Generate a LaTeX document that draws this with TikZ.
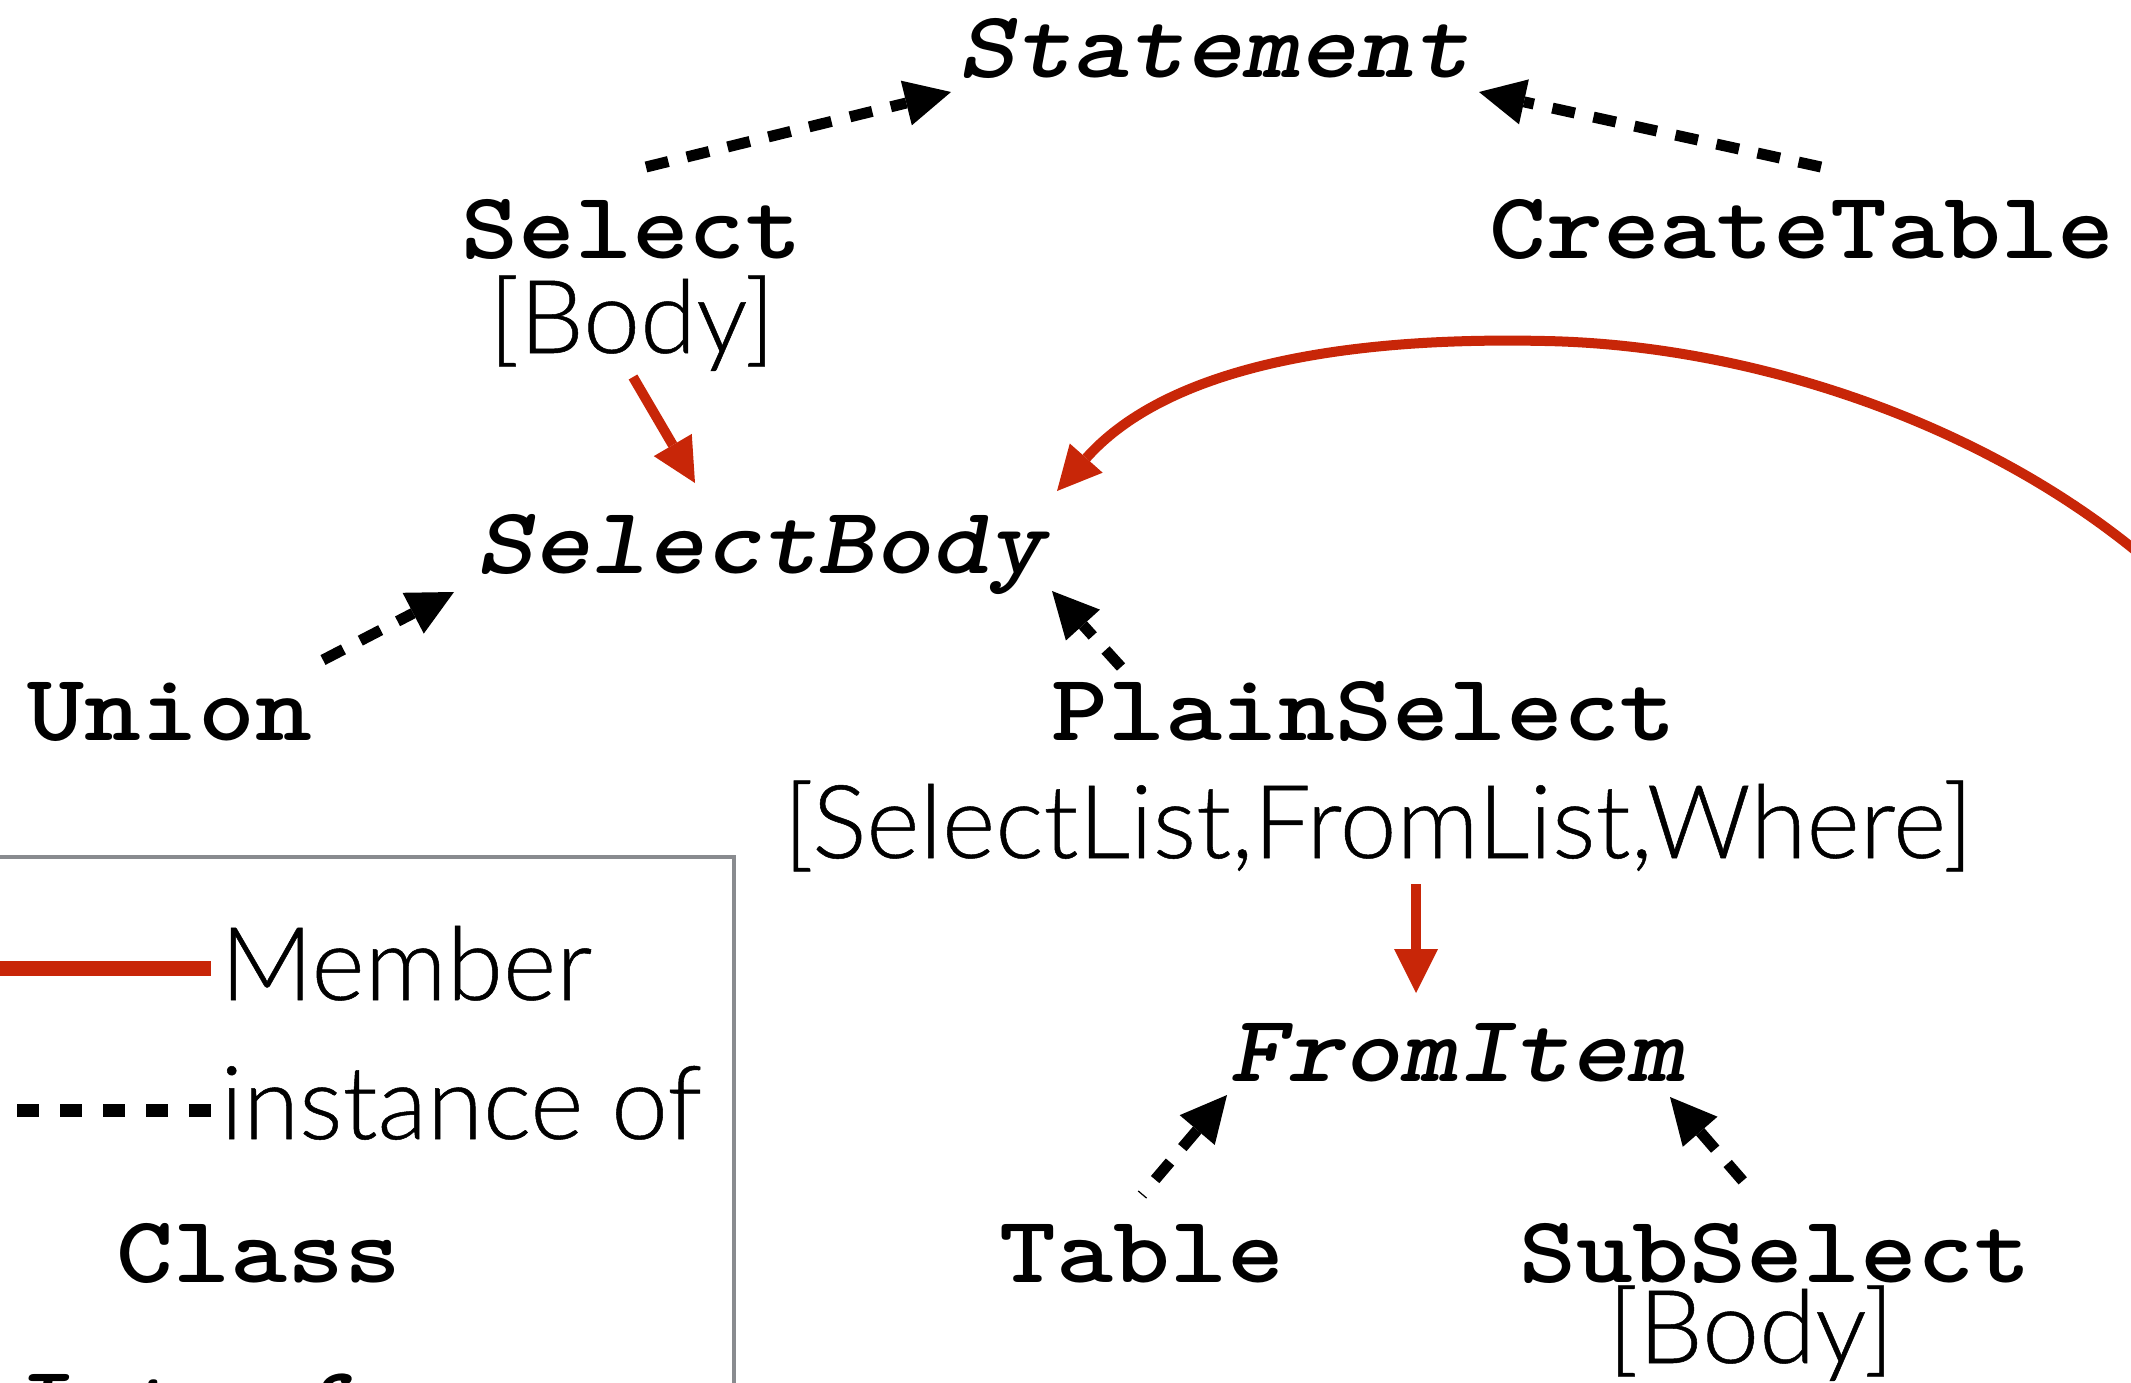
\documentclass[tikz,border=0pt]{standalone}
\usepackage{fontspec}
\usetikzlibrary{arrows.meta,calc}

% typewriter face for class and interface names
\newfontfamily\codefont{lmmonolt10-bold.otf}[ItalicFont=lmmonolt10-boldoblique.otf, FakeStretch=1.14]
% light sans face for member lists and the key
\IfFontExistsTF{Lato Light}{\newfontfamily\labelfont{Lato Light}[FakeBold=0.5]}{\newfontfamily\labelfont{Liberation Sans}}

\definecolor{memberred}{RGB}{200,38,8}
\definecolor{framegray}{RGB}{137,139,143}

\tikzset{
  MemberHead/.tip={Triangle[length=22pt,width=22pt,line width=0pt]},
  InstHead/.tip={Triangle[length=23pt,width=23pt,line width=0pt]},
  cls/.style={font=\codefont\fontsize{47.5}{50}\selectfont, inner sep=0pt, anchor=base},
  iface/.style={cls, font=\codefont\itshape\fontsize{47.5}{50}\selectfont},
  mbr/.style={font=\labelfont\fontsize{51}{54}\selectfont, inner sep=0pt, anchor=base},
  member/.style={draw=memberred, line width=5pt, -MemberHead},
  inst/.style={draw=black, line width=5.5pt, dash pattern=on 11.5pt off 9.5pt, -InstHead},
  keyframe/.style={draw=framegray, line width=2.25pt},
}

\begin{document}
\begin{tikzpicture}[x=0.5pt, y=-0.5pt]
\useasboundingbox (0,0) rectangle (2131,1382);

% class hierarchy
\node[iface] (Statement)   at (1214,77)   {Statement};
\node[cls]   (Select)      at (632,258)   {Select};
\node[mbr]   (SelectMembers) at (632,353) {[Body]};
\node[cls]   (CreateTable) at (1802,258)  {CreateTable};
\node[iface] (SelectBody)  at (761,573)   {SelectBody};
\node[cls]   (Union)       at (170,740)   {Union};
\node[cls]   (PlainSelect) at (1364,740)  {PlainSelect};
\node[mbr]   (PlainSelectMembers) at (1378,858) {[SelectList,FromList,Where]};
\node[iface] (FromItem)    at (1457,1081) {FromItem};
\node[cls]   (Table)       at (1142,1282) {Table};
\node[cls]   (SubSelect)   at (1775,1282) {SubSelect};
\node[mbr]   (SubSelectMembers) at (1751,1363) {[Body]};

% instance-of relations
\draw[inst] ([shift={(14,-91)}]Select.base) -- ([shift={(-263,15)}]Statement.base);
\draw[inst] ([shift={(19,-91)}]CreateTable.base) -- ([shift={(265,15)}]Statement.base);
\draw[inst] ([shift={(153,-80)}]Union.base) -- ([shift={(-307,19)}]SelectBody.base);
\draw[inst] ([shift={(-243,-73)}]PlainSelect.base) -- ([shift={(291,18)}]SelectBody.base);
\draw[inst, InstHead-] ([shift={(-230,14)}]FromItem.base) -- ([shift={(0,-87)}]Table.base);
\draw[inst, InstHead-] ([shift={(213,16)}]FromItem.base) -- ([shift={(-20,-87)}]SubSelect.base);

% member relations
\draw[member] ([shift={(1,24)}]SelectMembers.base) -- ([shift={(-66,-90)}]SelectBody.base);
\draw[member] ([shift={(38,26)}]PlainSelectMembers.base) -- ([shift={(-41,-88)}]FromItem.base);
\coordinate (BodyLoop) at (2175,585);
\draw[member] (BodyLoop) .. controls (2010,430) and (1760,345) .. (1545,341)
  .. controls (1320,336) and (1160,375) .. ([shift={(296,-82)}]SelectBody.base);

% key
\draw[keyframe] (-20,857) rectangle (734,1460);
\coordinate (MemberKeyA) at (-10,968);
\coordinate (MemberKeyB) at (211,968);
\draw[draw=memberred, line width=7.5pt] (MemberKeyA) -- (MemberKeyB);
\node[mbr, anchor=base west] (MemberKey) at (220,1000) {Member};
\coordinate (InstKeyA) at (17,1110);
\coordinate (InstKeyB) at (211,1110);
\draw[line width=6.5pt, dash pattern=on 11pt off 10.5pt] (InstKeyA) -- (InstKeyB);
\node[mbr, anchor=base west] (InstKey) at (220,1139) {instance of};
\node[cls]   (ClassKey) at (259,1282) {Class};
\node[iface] (IfaceKey) at (266,1432) {Interface};
\end{tikzpicture}
\end{document}
